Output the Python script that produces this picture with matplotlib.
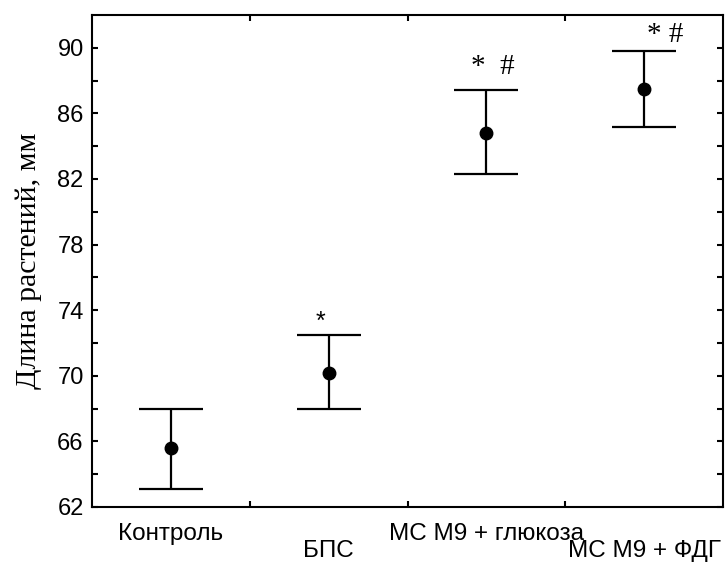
import matplotlib
matplotlib.use("Agg")
import matplotlib.pyplot as plt
import numpy as np

# данные
groups = ["Контроль", "БПС", "МС М9 + глюкоза", "МС М9 + ФДГ"]
means = [65.6, 70.2, 84.8, 87.5]
upper = [68.0, 72.5, 87.4, 89.8]
lower = [63.1, 68.0, 82.3, 85.2]
marks = ["", "*", "*  #", "* #"]

x = np.arange(len(groups)) + 0.5
err = [np.array(means) - np.array(lower), np.array(upper) - np.array(means)]

fig = plt.figure(figsize=(7.26, 5.62), dpi=100)
ax = fig.add_axes([0.1267, 0.0979, 0.8692, 0.8754])

ax.errorbar(x, means, yerr=err, fmt='o', color='black', ms=9, elinewidth=1.6,
            capsize=23, capthick=1.6)

ax.set_xlim(0, 4)
ax.set_ylim(62, 92)
ax.set_yticks(np.arange(62, 91, 4))
ax.set_yticks(np.arange(62, 92, 2), minor=True)
ax.set_xticks([1, 2, 3])
ax.set_xticklabels([])
ax.tick_params(axis='both', which='both', direction='in', top=True, right=True,
               length=4, width=1.5, labelsize=17)
ax.tick_params(axis='y', pad=6)
for lbl in ax.get_yticklabels():
    lbl.set_family('Liberation Sans')
for s in ax.spines.values():
    s.set_linewidth(1.5)

# подписи групп в два ряда
for i, g in enumerate(groups):
    yoff = -0.055 if i % 2 == 0 else -0.09
    ax.text(x[i], yoff, g, transform=ax.get_xaxis_transform(), ha='center', va='center',
            fontsize=17.5, family='Liberation Sans')

# значимость
ax.text(x[1] - 0.05, upper[1] + 0.8, marks[1], ha='center', va='center', fontsize=18,
        family='Liberation Sans')
ax.text(x[2] + 0.04, upper[2] + 1.4, marks[2], ha='center', va='center', fontsize=21,
        family='Liberation Serif')
ax.text(x[3] + 0.135, upper[3] + 1.0, marks[3], ha='center', va='center', fontsize=21,
        family='Liberation Serif')

ax.set_ylabel("Длина растений, мм", fontsize=21.5, family='Liberation Serif', labelpad=11)

plt.savefig('out.png', dpi=100)
